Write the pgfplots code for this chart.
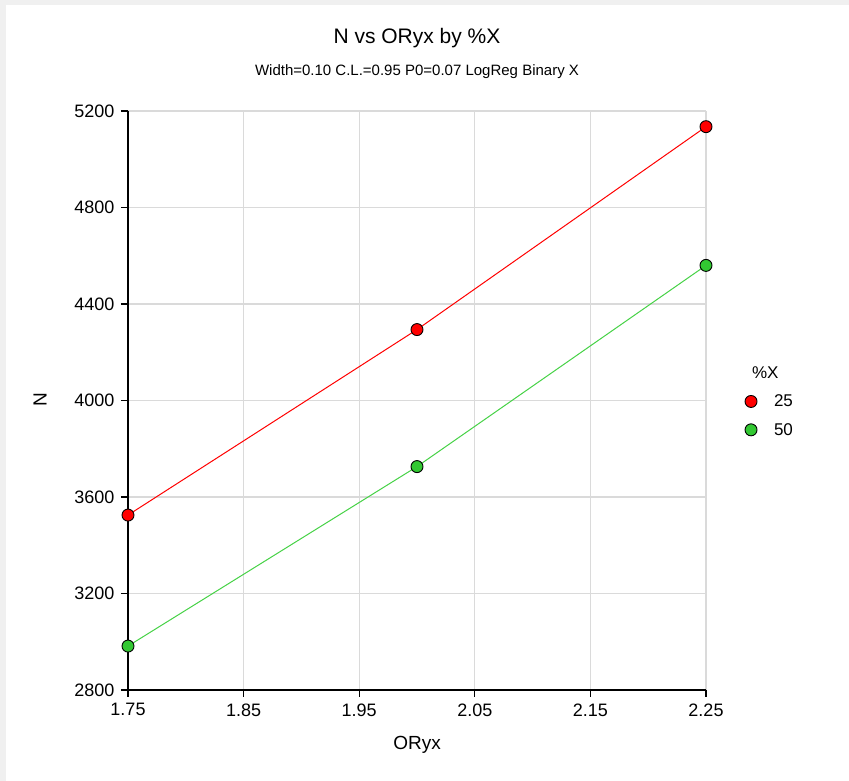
\documentclass[border=0pt]{standalone}
\usepackage{pgfplots}
\pgfplotsset{compat=1.18}
\usepackage{fontspec}
\setmainfont{Liberation Sans}
\definecolor{myred}{RGB}{255,0,0}
\definecolor{mygreen}{RGB}{50,200,50}
\definecolor{mygreenline}{RGB}{70,210,70}
\definecolor{gridgray}{RGB}{218,218,218}
\definecolor{bordergray}{RGB}{240,240,240}
\begin{document}
\begin{tikzpicture}[x=1pt,y=1pt]
\fill[bordergray] (-128,-91) rectangle (721,690);
\fill[white] (-122,-91) rectangle (721,685);
\begin{axis}[
  at={(0,0)}, anchor=south west,
  scale only axis, width=578pt, height=579pt,
  xmin=1.75, xmax=2.25, ymin=2800, ymax=5200,
  xtick={1.75,1.85,1.95,2.05,2.15,2.25},
  ytick={2800,3200,3600,4000,4400,4800,5200},
  axis lines*=left,
  axis line style={black, line width=1.3pt},
  tick align=outside, major tick length=7pt,
  tick style={black, line width=1.1pt},
  grid=major, major grid style={draw=gridgray, line width=1.2pt},
  /pgf/number format/assume math mode=true,
  xticklabel style={/pgf/number format/.cd, fixed, fixed zerofill, precision=2},
  yticklabel style={/pgf/number format/.cd, fixed, 1000 sep={}},
  ticklabel style={font=\fontsize{18}{20}\selectfont},
  xticklabel shift=3pt, yticklabel shift=3pt,
  clip=false,
  legend style={at={(1.062,0.566)}, anchor=north west, draw=none, fill=none,
    font=\fontsize{17}{20}\selectfont, row sep=11pt, column sep=15pt},
  legend cell align=left,
  legend image code/.code={\draw[#1] plot coordinates {(0pt,0pt)};},
]
\addlegendimage{empty legend}
\addlegendentry{\hspace*{-22pt}\%X}
\addlegendimage{only marks, mark=*, mark size=6pt, mark options={fill=myred, draw=black, line width=0.9pt}}
\addlegendentry{25}
\addlegendimage{only marks, mark=*, mark size=6pt, mark options={fill=mygreen, draw=black, line width=0.9pt}}
\addlegendentry{50}
\addplot[myred, line width=1pt, mark=*, mark size=6pt, mark options={fill=myred, draw=black, line width=0.9pt}, forget plot]
  coordinates {(1.75,3525) (2.00,4294) (2.25,5135)};
\addplot[mygreenline, line width=1pt, mark=*, mark size=6pt, mark options={fill=mygreen, draw=black, line width=0.9pt}, forget plot]
  coordinates {(1.75,2982) (2.00,3726) (2.25,4560)};
\end{axis}
\node[font=\fontsize{21}{24}\selectfont] at (289,652) {N vs ORyx by \%X};
\node[font=\fontsize{15}{18}\selectfont] at (289,618) {Width=0.10 C.L.=0.95 P0=0.07 LogReg Binary X};
\node[font=\fontsize{19}{22}\selectfont] at (289,-55) {ORyx};
\node[font=\fontsize{19}{22}\selectfont, rotate=90] at (-88,290) {N};
\end{tikzpicture}
\end{document}
